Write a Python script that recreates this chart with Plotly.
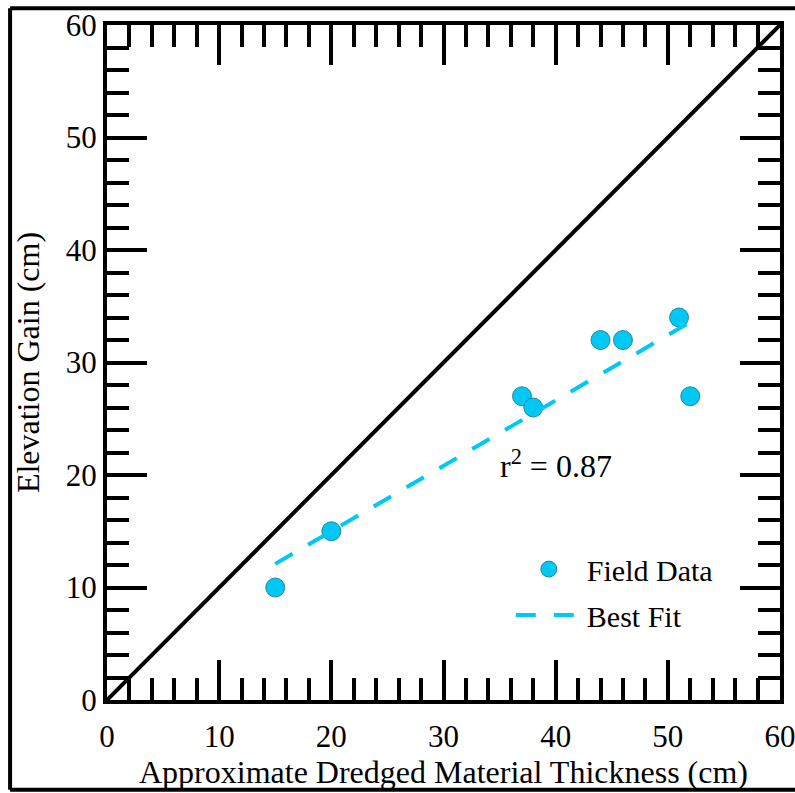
import plotly.graph_objects as go

# Data
field_x = [15, 20, 37, 38, 44, 46, 51, 52]
field_y = [10, 15, 27, 26, 32, 32, 34, 27]
fit_x = [15, 52]
fit_y = [12.1, 33.6]
one_to_one = [0, 60]
x_ticks = [0, 10, 20, 30, 40, 50, 60]
y_ticks = [0, 10, 20, 30, 40, 50, 60]

FONT = "Liberation Serif, Times New Roman, serif"
BLUE = "#00C8F5"

fig = go.Figure()
fig.add_trace(go.Scatter(x=one_to_one, y=one_to_one, mode="lines",
                         line=dict(color="black", width=4), showlegend=False,
                         hoverinfo="skip"))
fig.add_trace(go.Scatter(x=field_x, y=field_y, mode="markers", name="Field Data",
                         legend="legend",
                         marker=dict(color=BLUE, size=19,
                                     line=dict(color="#1a6f85", width=0.8))))
fig.add_trace(go.Scatter(x=fit_x, y=fit_y, mode="lines", name="Best Fit",
                         legend="legend2",
                         line=dict(color=BLUE, width=4, dash="20px,18px")))

axis_common = dict(
    range=[0, 60], showgrid=False, zeroline=False, automargin=False,
    showline=True, linecolor="black", linewidth=4, mirror="allticks",
    ticks="inside", ticklen=40, tickwidth=4, tickcolor="black",
    ticklabeloverflow="allow",
    tickfont=dict(family=FONT, size=31, color="black"),
    minor=dict(dtick=2, ticks="inside", ticklen=22, tickwidth=4, tickcolor="black"),
)
fig.update_xaxes(**axis_common, tickvals=x_ticks, ticklabelstandoff=6,
                 title=dict(text="Approximate Dredged Material Thickness (cm)",
                            font=dict(family=FONT, size=32, color="black"), standoff=2))
fig.update_yaxes(**axis_common, tickvals=y_ticks,
                 title=dict(text="Elevation Gain (cm)",
                            font=dict(family=FONT, size=32, color="black"), standoff=18))

fig.add_annotation(x=40, y=21, text="r<sup>2</sup> = 0.87", showarrow=False,
                   font=dict(family=FONT, size=32, color="black"))

# outer frame
FL, FR, FB, FT = -0.144, 1.03, -0.133, 1.025
for (x0, y0, x1, y1) in [(FL, FB, FL, FT), (FL, FT, FR, FT), (FL, FB, FR, FB)]:
    fig.add_shape(type="line", xref="paper", yref="paper", x0=x0, x1=x1, y0=y0, y1=y1,
                  line=dict(color="black", width=4))

leg_font = dict(family=FONT, size=30, color="black")
fig.update_layout(
    width=795, height=793,
    margin=dict(l=107, r=15, t=25, b=93),
    plot_bgcolor="white", paper_bgcolor="white",
    font=dict(family=FONT, size=30, color="black"),
    legend=dict(x=0.60, y=0.194, xanchor="left", yanchor="middle", itemwidth=66,
                bgcolor="rgba(0,0,0,0)", font=leg_font),
    legend2=dict(x=0.60, y=0.126, xanchor="left", yanchor="middle", itemwidth=66,
                 bgcolor="rgba(0,0,0,0)", font=leg_font),
)

fig.write_html("out.html", config={"displayModeBar": False},
               post_script="document.body.style.margin='0px';")
